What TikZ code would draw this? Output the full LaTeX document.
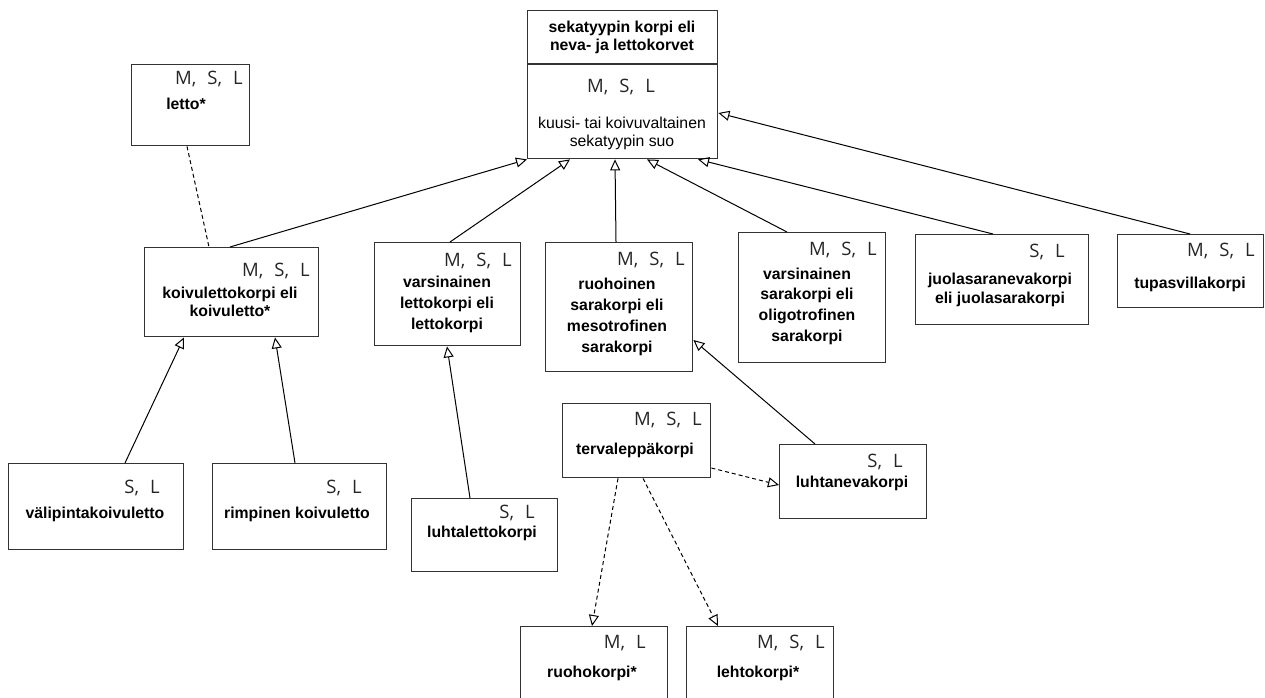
\documentclass[tikz,border=0pt]{standalone}
\usepackage{fontspec}
\setmainfont{Liberation Sans}
\newfontfamily\tagfont{Open Sans}
\newcommand\tagsetup{\tagfont\fontsize{18.5}{18.5}\selectfont\spaceskip=0.6em\relax}
\usetikzlibrary{arrows.meta}

\begin{document}
\begin{tikzpicture}[x=1pt,y=-1pt,
  box/.style={draw=black!80, line width=1.4pt, inner sep=0pt, anchor=north west},
  tag/.style={font=\tagsetup, text=black!85, anchor=base east, inner sep=0pt},
  typename/.style={font=\bfseries\fontsize{15.8}{#1}\selectfont, align=center, inner sep=0pt},
  typename/.default=21,
  desc/.style={font=\fontsize{15.8}{#1}\selectfont, align=center, inner sep=0pt},
  desc/.default=18,
  isa/.style={draw, line width=1pt, -{Triangle[open, length=11pt, width=10pt, line width=1pt]}},
  dep/.style={isa, dash pattern=on 4pt off 3pt},
  link/.style={draw, line width=1pt, dash pattern=on 4pt off 3pt},
]
\useasboundingbox (0,0) rectangle (1265,698);
\clip (0,0) rectangle (1265,698);

% parent type
\node[box, minimum width=190pt, minimum height=148pt] (top) at (527,10) {};
\draw[draw=black!80, line width=1.4pt] (top.north west |- 0,64) -- (top.north east |- 0,64);
\node[typename=18] (top-title) at (622,37) {sekatyypin korpi eli\\neva- ja lettokorvet};
\node[tag, anchor=base] (top-tag) at (621,93) {M, S, L};
\node[desc=18] (top-txt) at (622,133) {kuusi- tai koivuvaltainen\\sekatyypin suo};

% boxes
\node[box, minimum width=118pt, minimum height=81pt] (letto) at (131,64) {};
\node[tag] (letto-tag) at (243,85) {M, S, L};
\node[typename] (letto-txt) at (186,104) {letto*};

\node[box, minimum width=174pt, minimum height=89pt] (koivu) at (144,247) {};
\node[tag] (koivu-tag) at (310,276) {M, S, L};
\node[typename=18] (koivu-txt) at (230,302) {koivulettokorpi eli\\koivuletto*};

\node[box, minimum width=146pt, minimum height=103pt] (letkorpi) at (374,242) {};
\node[tag] (letkorpi-tag) at (512,266) {M, S, L};
\node[typename=21] (letkorpi-txt) at (447,304) {varsinainen\\lettokorpi eli\\lettokorpi};

\node[box, minimum width=147pt, minimum height=129pt] (ruoho) at (545,242) {};
\node[tag] (ruoho-tag) at (685,265) {M, S, L};
\node[typename=21] (ruoho-txt) at (617,317) {ruohoinen\\sarakorpi eli\\mesotrofinen\\sarakorpi};

\node[box, minimum width=147pt, minimum height=130pt] (oligo) at (738,232) {};
\node[tag] (oligo-tag) at (877,255) {M, S, L};
\node[typename=20.7] (oligo-txt) at (807,306) {varsinainen\\sarakorpi eli\\oligotrofinen\\sarakorpi};

\node[box, minimum width=173pt, minimum height=90pt] (juola) at (915,234) {};
\node[tag] (juola-tag) at (1065,257) {S, L};
\node[typename=19] (juola-txt) at (1000,290) {juolasaranevakorpi\\eli juolasarakorpi};

\node[box, minimum width=146pt, minimum height=73pt] (tupas) at (1117,234) {};
\node[tag] (tupas-tag) at (1255,256) {M, S, L};
\node[typename] (tupas-txt) at (1190,284) {tupasvillakorpi};

\node[box, minimum width=175pt, minimum height=86pt] (vali) at (8,463) {};
\node[tag] (vali-tag) at (160,493) {S, L};
\node[typename] (vali-txt) at (95,514) {välipintakoivuletto};

\node[box, minimum width=174pt, minimum height=86pt] (rimp) at (212,463) {};
\node[tag] (rimp-tag) at (362,493) {S, L};
\node[typename] (rimp-txt) at (297,514) {rimpinen koivuletto};

\node[box, minimum width=146pt, minimum height=73pt] (luhtlet) at (411,498) {};
\node[tag] (luhtlet-tag) at (535,518) {S, L};
\node[typename] (luhtlet-txt) at (482,533) {luhtalettokorpi};

\node[box, minimum width=148pt, minimum height=74pt] (terva) at (562,403) {};
\node[tag] (terva-tag) at (702,425) {M, S, L};
\node[typename] (terva-txt) at (635,450) {tervaleppäkorpi};

\node[box, minimum width=147pt, minimum height=74pt] (luhtnev) at (779,444) {};
\node[tag] (luhtnev-tag) at (903,467) {S, L};
\node[typename] (luhtnev-txt) at (852,483) {luhtanevakorpi};

\node[box, minimum width=147pt, minimum height=94pt] (ruohok) at (520,626) {};
\node[tag] (ruohok-tag) at (646,648) {M, L};
\node[typename] (ruohok-txt) at (592,673) {ruohokorpi*};

\node[box, minimum width=147pt, minimum height=94pt] (lehto) at (686,626) {};
\node[tag] (lehto-tag) at (825,648) {M, S, L};
\node[typename] (lehto-txt) at (758,673) {lehtokorpi*};

% specialisation links
\draw[isa] (koivu.north -| 230,0) -- (top.south west);
\draw[isa] (letkorpi.north -| 450,0) -- (top.south -| 570,0);
\draw[isa] (ruoho.north -| 616,0) -- (top.south -| 615,0);
\draw[isa] (oligo.north -| 787,0) -- (top.south -| 647,0);
\draw[isa] (juola.north -| 993,0) -- (top.south -| 698,0);
\draw[isa] (tupas.north -| 1190,0) -- (top.east |- 0,113);
\draw[link] (letto.south -| 187,0) -- (koivu.north -| 209,0);
\draw[isa] (vali.north -| 125,0) -- (koivu.south -| 184,0);
\draw[isa] (rimp.north -| 295,0) -- (koivu.south -| 275,0);
\draw[isa] (luhtlet.north -| 470,0) -- (letkorpi.south -| 447,0);
\draw[isa] (luhtnev.north -| 815,0) -- (ruoho.east |- 0,340);
\draw[dep] (terva.east |- 0,468) -- (luhtnev.west |- 0,485);
\draw[dep] (terva.south -| 618,0) -- (ruohok.north -| 592,0);
\draw[dep] (terva.south -| 643,0) -- (lehto.north -| 718,0);
\end{tikzpicture}
\end{document}
